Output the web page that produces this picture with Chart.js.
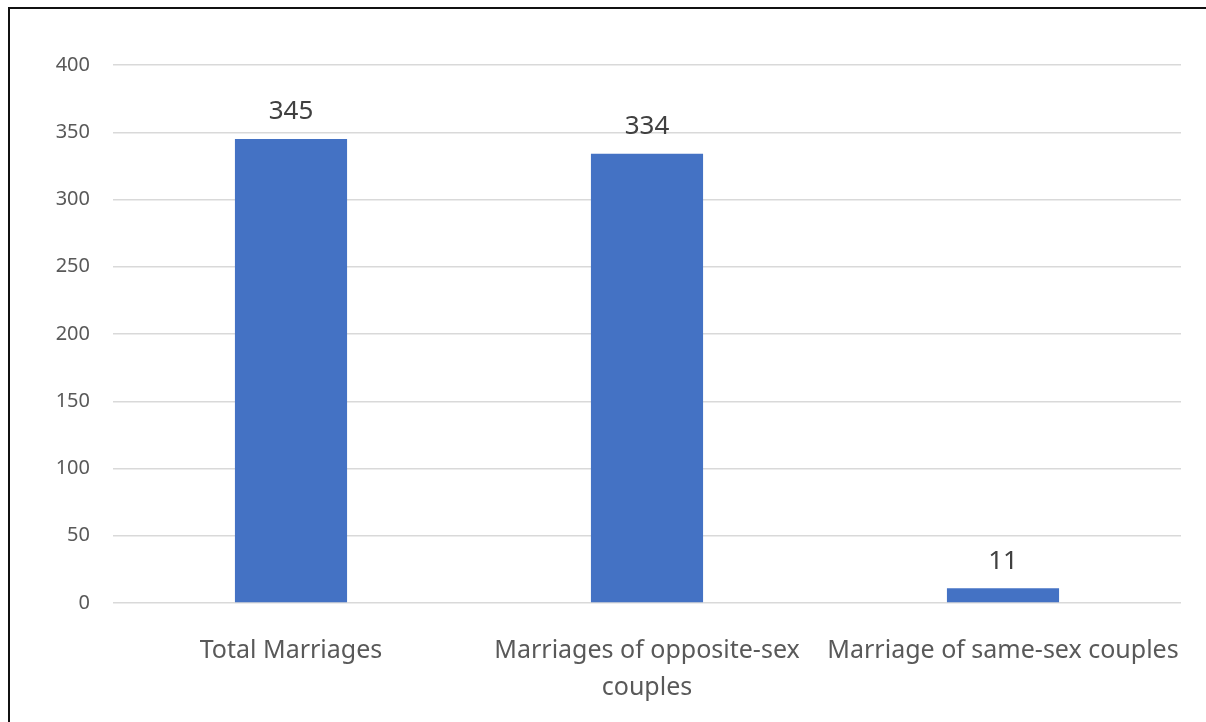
<!DOCTYPE html>
<html>
<head>
<meta charset="utf-8">
<script src="https://cdn.jsdelivr.net/npm/chart.js@4"></script>
<style>
  html, body { margin: 0; padding: 0; background: #fff; }
  #wrap { position: relative; width: 1206px; height: 722px; overflow: hidden; }
  #frame { position: absolute; left: 8px; top: 7px; width: 1300px; height: 800px; border: 2px solid #111; box-sizing: border-box; }
  canvas { position: absolute; left: 0; top: 0; }
</style>
</head>
<body>
<div id="wrap">
  <div id="frame"></div>
  <canvas id="chart" width="1206" height="722"></canvas>
</div>
<script>
const categories = ['Total Marriages', ['Marriages of opposite-sex', 'couples'], 'Marriage of same-sex couples'];
const marriages = [345, 334, 11];
const yTicks = [0, 50, 100, 150, 200, 250, 300, 350, 400];

const barLabels = {
  id: 'barLabels',
  afterDatasetsDraw(chart) {
    const ctx = chart.ctx;
    const meta = chart.getDatasetMeta(0);
    ctx.save();
    ctx.font = '26px "Noto Sans"';
    ctx.fillStyle = '#404040';
    ctx.textAlign = 'center';
    ctx.textBaseline = 'middle';
    meta.data.forEach((bar, i) => {
      ctx.fillText(marriages[i], bar.x, bar.y - 27);
    });
    ctx.restore();
  }
};

new Chart(document.getElementById('chart'), {
  type: 'bar',
  data: {
    labels: categories,
    datasets: [{
      data: marriages,
      backgroundColor: '#4472c4',
      categoryPercentage: 1,
      barPercentage: 0.315
    }]
  },
  options: {
    responsive: false,
    animation: false,
    layout: { padding: { top: 65, right: 25, left: 0, bottom: 0 } },
    plugins: { legend: { display: false }, tooltip: { enabled: false } },
    scales: {
      x: {
        grid: { display: false },
        border: { display: false },
        afterFit(scale) {
          scale.height = 119;
          scale.paddingRight = 0;
        },
        ticks: {
          color: '#595959',
          padding: 21,
          maxRotation: 0,
          autoSkip: false,
          font: { family: 'Noto Sans', size: 25, lineHeight: 1.5 }
        }
      },
      y: {
        min: 0,
        max: 400,
        afterFit(scale) { scale.width = 113; },
        afterBuildTicks(scale) { scale.ticks = yTicks.map(v => ({ value: v })); },
        grid: { color: '#d9d9d9', lineWidth: 1.5, drawTicks: false },
        border: { display: false },
        ticks: {
          color: '#595959',
          padding: 23,
          font: { family: 'Noto Sans', size: 20 }
        }
      }
    }
  },
  plugins: [barLabels]
});
</script>
</body>
</html>
